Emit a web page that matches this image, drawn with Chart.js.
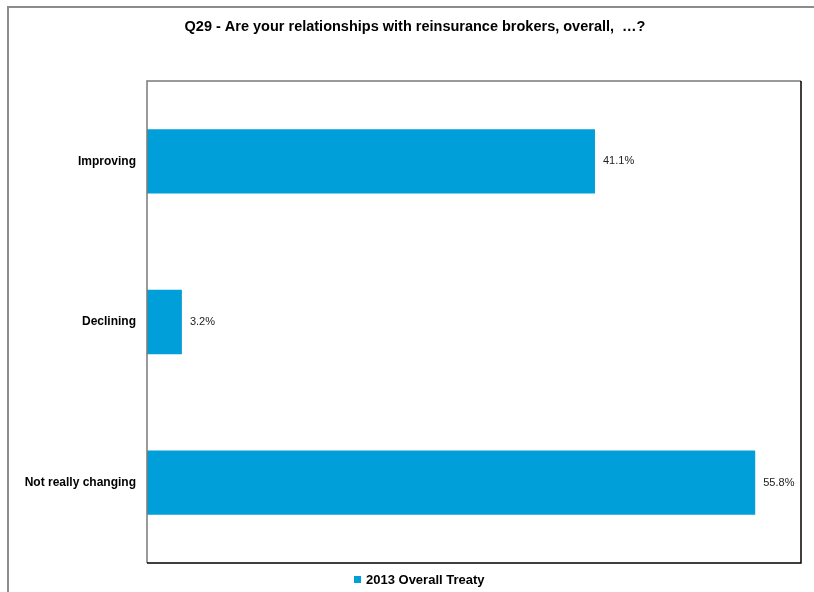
<!DOCTYPE html>
<html>
<head>
<meta charset="utf-8">
<script src="https://cdn.jsdelivr.net/npm/chart.js@4/dist/chart.umd.min.js"></script>
<style>
  html, body { margin: 0; padding: 0; background: #ffffff; }
  #wrap { width: 814px; height: 592px; position: relative; }
</style>
</head>
<body>
<div id="wrap"><canvas id="c" width="814" height="592"></canvas></div>
<script>
// Survey answers and shares (%)
const categories = ['Improving', 'Declining', 'Not really changing'];
const treaty2013 = [41.1, 3.2, 55.8];
const seriesName = '2013 Overall Treaty';
const chartTitle = 'Q29 - Are your relationships with reinsurance brokers, overall,  \u2026?';

const BAR_COLOR = '#009FDA';
const FONT = '"Liberation Sans", Arial, sans-serif';

// Outer page frame and the plot-area box (grey top/left, black bottom/right)
const framePlugin = {
  id: 'frames',
  beforeDraw(chart) {
    const ctx = chart.ctx;
    ctx.save();
    ctx.strokeStyle = '#8c8c8c';
    ctx.lineWidth = 2;
    ctx.beginPath();
    ctx.moveTo(8, 592);
    ctx.lineTo(8, 7);
    ctx.lineTo(814, 7);
    ctx.stroke();
    ctx.restore();
  },
  afterDatasetsDraw(chart) {
    const ctx = chart.ctx;
    const a = chart.chartArea;
    ctx.save();
    ctx.lineWidth = 1.5;
    ctx.strokeStyle = '#7a7a7a';
    ctx.beginPath();
    ctx.moveTo(a.left, a.bottom);
    ctx.lineTo(a.left, a.top);
    ctx.lineTo(a.right, a.top);
    ctx.stroke();
    ctx.strokeStyle = '#000000';
    ctx.beginPath();
    ctx.moveTo(a.right, a.top);
    ctx.lineTo(a.right, a.bottom);
    ctx.lineTo(a.left, a.bottom);
    ctx.stroke();
    ctx.restore();
  }
};

// Value labels at the end of each bar
const valueLabels = {
  id: 'valueLabels',
  afterDatasetsDraw(chart) {
    const ctx = chart.ctx;
    const meta = chart.getDatasetMeta(0);
    ctx.save();
    ctx.font = '11px ' + FONT;
    ctx.fillStyle = '#222222';
    ctx.textAlign = 'left';
    ctx.textBaseline = 'middle';
    meta.data.forEach((bar, i) => {
      const v = chart.data.datasets[0].data[i];
      ctx.fillText(v.toFixed(1) + '%', bar.x + 8, bar.y);
    });
    ctx.restore();
  }
};

// Title over the page and the series key under the plot
const headerAndKey = {
  id: 'headerAndKey',
  afterDraw(chart) {
    const ctx = chart.ctx;
    const ds = chart.data.datasets[0];
    ctx.save();
    ctx.fillStyle = '#000000';
    ctx.textBaseline = 'middle';
    ctx.textAlign = 'center';
    ctx.font = 'bold 14.5px ' + FONT;
    ctx.fillText(chartTitle, 415, 27);

    ctx.fillStyle = ds.backgroundColor;
    ctx.fillRect(354, 576, 7, 7);
    ctx.fillStyle = '#000000';
    ctx.textAlign = 'left';
    ctx.font = 'bold 13px ' + FONT;
    ctx.fillText(ds.label, 366, 580);
    ctx.restore();
  }
};

new Chart(document.getElementById('c'), {
  type: 'bar',
  data: {
    labels: categories,
    datasets: [{
      label: seriesName,
      data: treaty2013,
      backgroundColor: BAR_COLOR,
      borderWidth: 0,
      categoryPercentage: 1.0,
      barPercentage: 0.4
    }]
  },
  options: {
    indexAxis: 'y',
    responsive: false,
    animation: false,
    devicePixelRatio: 1,
    layout: { padding: { top: 81, right: 13, bottom: 29, left: 0 } },
    scales: {
      x: {
        min: 0,
        max: 60,
        display: false
      },
      y: {
        grid: { display: false },
        border: { display: false },
        ticks: {
          color: '#000000',
          padding: 3,
          font: { family: FONT, size: 12, weight: 'bold' }
        },
        afterFit(scale) { scale.width = 147; }
      }
    },
    plugins: {
      title: { display: false },
      legend: { display: false },
      tooltip: { enabled: false }
    }
  },
  plugins: [framePlugin, valueLabels, headerAndKey]
});
</script>
</body>
</html>
